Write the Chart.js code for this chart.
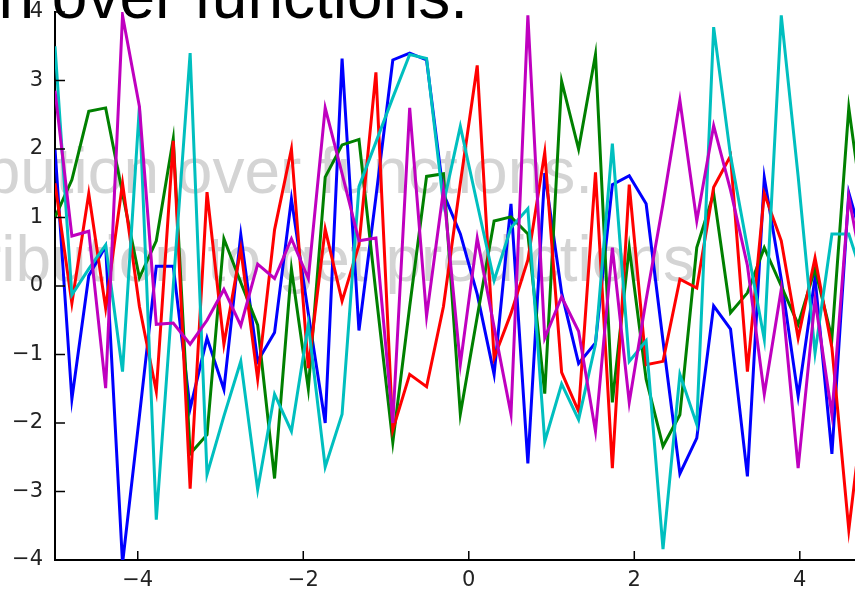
<!DOCTYPE html>
<html><head><meta charset="utf-8">
<script src="https://cdn.jsdelivr.net/npm/chart.js@4.4.0/dist/chart.umd.min.js"></script>
<style>
html,body{margin:0;padding:0;background:#fff;overflow:hidden;width:855px;height:591px;}
#wrap{position:relative;width:855px;height:591px;overflow:hidden;background:#fff;}
.t{position:absolute;font-family:"Liberation Sans",Arial,sans-serif;font-size:64px;line-height:64px;white-space:nowrap;}
#title{right:387px;top:-36px;color:#000;z-index:2}
#g1{right:262px;top:139px;color:#d4d4d4;z-index:0}
#g2{right:160px;top:227px;color:#d4d4d4;z-index:0}
canvas{position:absolute;left:0;top:0;z-index:1}
</style></head>
<body><div id="wrap">
<div class="t" id="g1">distribution over functions.</div>
<div class="t" id="g2">distribution to get predictions</div>
<canvas id="c" width="855" height="591"></canvas>
<div class="t" id="title">distribution over functions.</div>
</div>
<script>
const xValues = [-5.000,-4.796,-4.592,-4.388,-4.184,-3.980,-3.776,-3.571,-3.367,-3.163,
 -2.959,-2.755,-2.551,-2.347,-2.143,-1.939,-1.735,-1.531,-1.327,-1.122,
 -0.918,-0.714,-0.510,-0.306,-0.102,0.102,0.306,0.510,0.714,0.918,
 1.122,1.327,1.531,1.735,1.939,2.143,2.347,2.551,2.755,2.959,
 3.163,3.367,3.571,3.776,3.980,4.184,4.388,4.592,4.796,5.000];

const blueSeries = [2.0,-1.65,0.15,0.58,-4.05,-1.9,0.29,0.29,-1.79,-0.76,
 -1.51,0.75,-1.1,-0.68,1.27,-0.4,-2.0,3.32,-0.65,1.3,
 3.3,3.4,3.3,1.35,0.76,-0.12,-1.29,1.2,-2.59,1.65,
 -0.1,-1.13,-0.83,1.48,1.61,1.2,-0.8,-2.74,-2.22,-0.29,
 -0.63,-2.78,1.58,0.1,-1.61,0.12,-2.45,1.36,0.5,-0.5];

const greenSeries = [1.0,1.55,2.55,2.6,1.35,0.12,0.66,2.15,-2.45,-2.17,
 0.69,0.05,-0.57,-2.81,0.25,-1.5,1.59,2.06,2.14,-0.1,
 -2.28,-0.3,1.6,1.64,-1.87,-0.45,0.95,1.01,0.76,-1.57,
 2.99,2.0,3.38,-1.7,0.56,-1.36,-2.34,-1.88,0.56,1.35,
 -0.39,-0.1,0.56,0.0,-0.56,0.25,-0.76,2.6,0.8,0.0];

const redSeries = [1.5,-0.25,1.35,-0.32,1.5,-0.3,-1.54,2.12,-2.96,1.37,
 -0.85,0.54,-1.36,0.82,2.0,-1.2,0.83,-0.22,0.6,3.12,
 -2.1,-1.29,-1.47,-0.3,1.5,3.22,-1.05,-0.4,0.38,1.95,
 -1.26,-1.83,1.66,-2.66,1.48,-1.15,-1.1,0.1,-0.03,1.44,
 1.9,-1.25,1.35,0.66,-0.76,0.41,-0.9,-3.56,-1.5,0.0];

const cyanSeries = [3.5,-0.13,0.25,0.6,-1.25,2.62,-3.41,0.0,3.4,-2.75,
 -1.9,-1.1,-2.97,-1.58,-2.12,-0.56,-2.64,-1.87,1.45,2.1,
 2.75,3.38,3.32,1.2,2.33,1.2,0.08,0.85,1.13,-2.27,
 -1.43,-1.95,-0.85,2.08,-1.1,-0.8,-3.84,-1.29,-2.02,3.78,
 1.9,0.56,-0.78,3.95,1.6,-0.98,0.76,0.76,0.0,0.0];

const magentaSeries = [2.85,0.73,0.8,-1.49,3.95,2.62,-0.56,-0.54,-0.85,-0.5,
 -0.05,-0.58,0.32,0.11,0.69,0.11,2.6,1.64,0.66,0.7,
 -2.0,2.6,-0.44,1.4,-1.14,0.7,-0.6,-1.87,3.95,-0.76,
 -0.16,-0.66,-2.12,0.56,-1.7,-0.2,1.2,2.71,0.95,2.34,
 1.4,0.3,-1.58,-0.05,-2.66,-0.2,-1.88,1.3,0.0,0.0];

const yTickValues = [-4,-3,-2,-1,0,1,2,3,4];
const xTickValues = [-4,-2,0,2,4];

function fmt(v){ return v < 0 ? '\u2212' + Math.abs(v) : String(v); }

function mk(data, color, order){
  return {
    data: xValues.map((x, i) => ({x: x, y: data[i]})),
    borderColor: color, backgroundColor: color,
    borderWidth: 3, pointRadius: 0, tension: 0, fill: false, order: order
  };
}

const tickMarks = {
  id: 'tickMarks',
  afterDraw(chart){
    const ctx = chart.ctx, a = chart.chartArea, xs = chart.scales.x, ys = chart.scales.y;
    ctx.save();
    ctx.strokeStyle = '#000';
    ctx.lineWidth = 1.5;
    ctx.beginPath();
    ys.ticks.forEach(t => { const p = ys.getPixelForValue(t.value); ctx.moveTo(a.left, p); ctx.lineTo(a.left + 10, p); });
    xs.ticks.forEach(t => { const p = xs.getPixelForValue(t.value); ctx.moveTo(p, a.bottom); ctx.lineTo(p, a.bottom - 9); });
    ctx.stroke();
    ctx.restore();
  }
};

const tickFont = {family: 'DejaVu Sans', size: 21};

new Chart(document.getElementById('c'), {
  type: 'line',
  data: { datasets: [
    mk(blueSeries, '#0000ff', 5),
    mk(greenSeries, '#008000', 4),
    mk(redSeries, '#ff0000', 3),
    mk(cyanSeries, '#00bfbf', 2),
    mk(magentaSeries, '#bf00bf', 1)
  ]},
  options: {
    responsive: false, animation: false, events: [],
    layout: { padding: { top: 12, left: 0, right: 0, bottom: 0 } },
    plugins: { legend: { display: false }, tooltip: { enabled: false } },
    scales: {
      x: {
        type: 'linear', min: -5, max: 4.667,
        afterBuildTicks: s => { s.ticks = xTickValues.map(v => ({value: v})); },
        afterFit: s => { s.height = 31; s.paddingLeft = 0; s.paddingRight = 0; },
        grid: { display: false, drawTicks: false },
        border: { display: true, color: '#000', width: 2 },
        ticks: { padding: 8, color: '#222', font: tickFont, callback: v => fmt(v), maxRotation: 0, autoSkip: false }
      },
      y: {
        type: 'linear', min: -4, max: 4,
        afterBuildTicks: s => { s.ticks = yTickValues.map(v => ({value: v})); },
        afterFit: s => { s.width = 55; s.paddingTop = 0; s.paddingBottom = 0; },
        grid: { display: false, drawTicks: false },
        border: { display: true, color: '#000', width: 2 },
        ticks: { padding: 12, color: '#222', font: tickFont, callback: v => fmt(v), autoSkip: false }
      }
    }
  },
  plugins: [tickMarks]
});
</script>
</body></html>
